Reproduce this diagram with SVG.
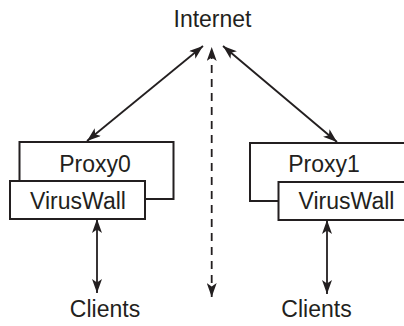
<svg xmlns="http://www.w3.org/2000/svg" width="404" height="326" viewBox="0 0 404 326">
  <defs>
    <marker id="ah" viewBox="0 0 14 10" refX="14" refY="5" markerWidth="14" markerHeight="10" markerUnits="userSpaceOnUse" orient="auto-start-reverse">
      <path d="M0,0 L14,5 L0,10 L3.5,5 Z" fill="#231f20"/>
    </marker>
    <style>
      .box { fill: #ffffff; stroke: #231f20; stroke-width: 2; }
      .lbl { font-family: "Liberation Sans", Arial, sans-serif; font-size: 23px; fill: #231f20; text-anchor: middle; }
      .conn { stroke: #231f20; stroke-width: 1.8; fill: none; marker-start: url(#ah); marker-end: url(#ah); }
      .dash { stroke-dasharray: 8 6; }
    </style>
  </defs>
  <rect width="404" height="326" fill="#ffffff"/>

  <g id="internet">
    <text class="lbl" x="212.5" y="27">Internet</text>
  </g>

  <g id="proxy0">
    <rect class="box" x="19.5" y="142" width="154" height="57"/>
    <text class="lbl" x="95" y="172">Proxy0</text>
  </g>
  <g id="viruswall0">
    <rect class="box" x="10" y="181" width="135" height="38"/>
    <text class="lbl" x="78" y="209">VirusWall</text>
  </g>

  <g id="proxy1">
    <rect class="box" x="250" y="143" width="160" height="58"/>
    <text class="lbl" x="324" y="172">Proxy1</text>
  </g>
  <g id="viruswall1">
    <rect class="box" x="278.5" y="182" width="130" height="38"/>
    <text class="lbl" x="346.5" y="209">VirusWall</text>
  </g>

  <g id="clients0">
    <text class="lbl" x="105" y="317">Clients</text>
  </g>
  <g id="clients1">
    <text class="lbl" x="316.5" y="317">Clients</text>
  </g>

  <g id="connectors">
    <line class="conn" x1="87" y1="141" x2="203" y2="46"/>
    <line class="conn" x1="337" y1="142" x2="223" y2="46"/>
    <line class="conn dash" x1="211.7" y1="297" x2="211.7" y2="47"/>
    <line class="conn" x1="97" y1="219" x2="97" y2="293"/>
    <line class="conn" x1="327" y1="220" x2="327" y2="294"/>
  </g>
</svg>
